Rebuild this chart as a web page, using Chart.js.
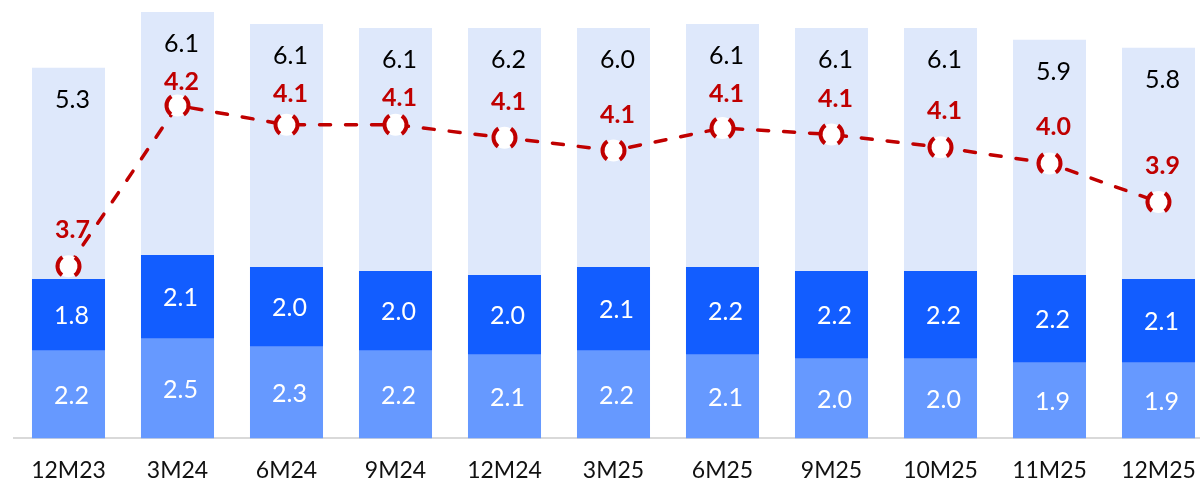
<!DOCTYPE html>
<html>
<head>
<meta charset="utf-8">
<script src="https://cdn.jsdelivr.net/npm/chart.js@4"></script>
<style>
    html, body { margin: 0; padding: 0; background: #fff; overflow: hidden; }
    #wrap { width: 1214px; height: 502px; position: relative; }
</style>
</head>
<body>
<div id="wrap"><canvas id="mainChart"></canvas></div>
<script>
const periods = ['12M23', '3M24', '6M24', '9M24', '12M24', '3M25', '6M25', '9M25', '10M25', '11M25', '12M25'];
const baseValues = [2.2, 2.5, 2.3, 2.2, 2.1, 2.2, 2.1, 2.0, 2.0, 1.9, 1.9];
const midValues = [1.8, 2.1, 2.0, 2.0, 2.0, 2.1, 2.2, 2.2, 2.2, 2.2, 2.1];
const topValues = [5.3, 6.1, 6.1, 6.1, 6.2, 6.0, 6.1, 6.1, 6.1, 5.9, 5.8];
const ratioValues = [3.70, 4.20, 4.14, 4.14, 4.10, 4.06, 4.13, 4.11, 4.07, 4.02, 3.90];

const FONT = 'Lato, "Open Sans", sans-serif';
const RED = '#C00000';

// Labels + dashed hollow markers
const labelPlugin = {
    id: 'labels',
    afterDatasetsDraw: (chart) => {
        const { ctx } = chart;
        ctx.save();
        ctx.textAlign = 'center';
        ctx.textBaseline = 'middle';
        ctx.font = '25px ' + FONT;

        const topLabelY = [];
        [0, 1, 2].forEach(di => {
            const meta = chart.getDatasetMeta(di);
            const vals = chart.data.datasets[di].data;
            meta.data.forEach((bar, i) => {
                const { x, y, base } = bar.getProps(['x', 'y', 'base'], true);
                const txt = vals[i].toFixed(1);
                if (di === 2) {
                    ctx.fillStyle = '#000';
                    ctx.fillText(txt, x + 4, y + 32);
                    topLabelY[i] = y + 32;
                } else {
                    ctx.fillStyle = '#fff';
                    ctx.fillText(txt, x + 3, (y + base) / 2 + 1);
                }
            });
        });

        // markers
        const lineMeta = chart.getDatasetMeta(3);
        lineMeta.data.forEach(pt => {
            ctx.beginPath();
            ctx.setLineDash([]);
            ctx.fillStyle = '#fff';
            ctx.arc(pt.x, pt.y, 11, 0, Math.PI * 2);
            ctx.fill();
            ctx.beginPath();
            ctx.strokeStyle = RED;
            ctx.lineWidth = 4;
            ctx.setLineDash([21, 13.5]);
            ctx.arc(pt.x, pt.y, 11, -0.95, -0.95 + Math.PI * 2);
            ctx.stroke();
        });
        ctx.setLineDash([]);

        ctx.font = 'bold 25px ' + FONT;
        ctx.fillStyle = RED;
        lineMeta.data.forEach((pt, i) => {
            const ly = Math.max(pt.y - 36, topLabelY[i] + 38);
            ctx.fillText(ratioValues[i].toFixed(1), pt.x + 4, ly);
        });
        ctx.restore();
    }
};

const barCommon = {
    type: 'bar',
    stack: 's',
    yAxisID: 'y',
    order: 1,
    borderWidth: 0,
    barPercentage: 0.67,
    categoryPercentage: 1.0
};

new Chart(document.getElementById('mainChart'), {
    data: {
        labels: periods,
        datasets: [
            Object.assign({ label: 'base', data: baseValues, backgroundColor: '#6699FF' }, barCommon),
            Object.assign({ label: 'mid', data: midValues, backgroundColor: '#125DFF' }, barCommon),
            Object.assign({ label: 'top', data: topValues, backgroundColor: '#DEE8FB' }, barCommon),
            {
                type: 'line',
                label: 'ratio',
                data: ratioValues,
                yAxisID: 'y2',
                order: 0,
                borderColor: RED,
                borderWidth: 3.5,
                borderDash: [11, 15],
                borderCapStyle: 'round',
                pointRadius: 0,
                fill: false,
                tension: 0
            }
        ]
    },
    options: {
        responsive: true,
        maintainAspectRatio: false,
        animation: false,
        layout: { padding: { left: 14, right: 1, top: 0, bottom: 0 } },
        plugins: {
            legend: { display: false },
            tooltip: { enabled: false }
        },
        scales: {
            x: {
                stacked: true,
                grid: { display: false, drawTicks: false },
                border: { display: true, color: '#D9D9D9', width: 2 },
                ticks: { color: '#111', padding: 18, font: { family: FONT, size: 23 } }
            },
            y: {
                stacked: true,
                display: false,
                min: 0,
                max: 11
            },
            y2: {
                display: false,
                min: 3.165,
                max: 4.528
            }
        }
    },
    plugins: [labelPlugin]
});
</script>
</body>
</html>
